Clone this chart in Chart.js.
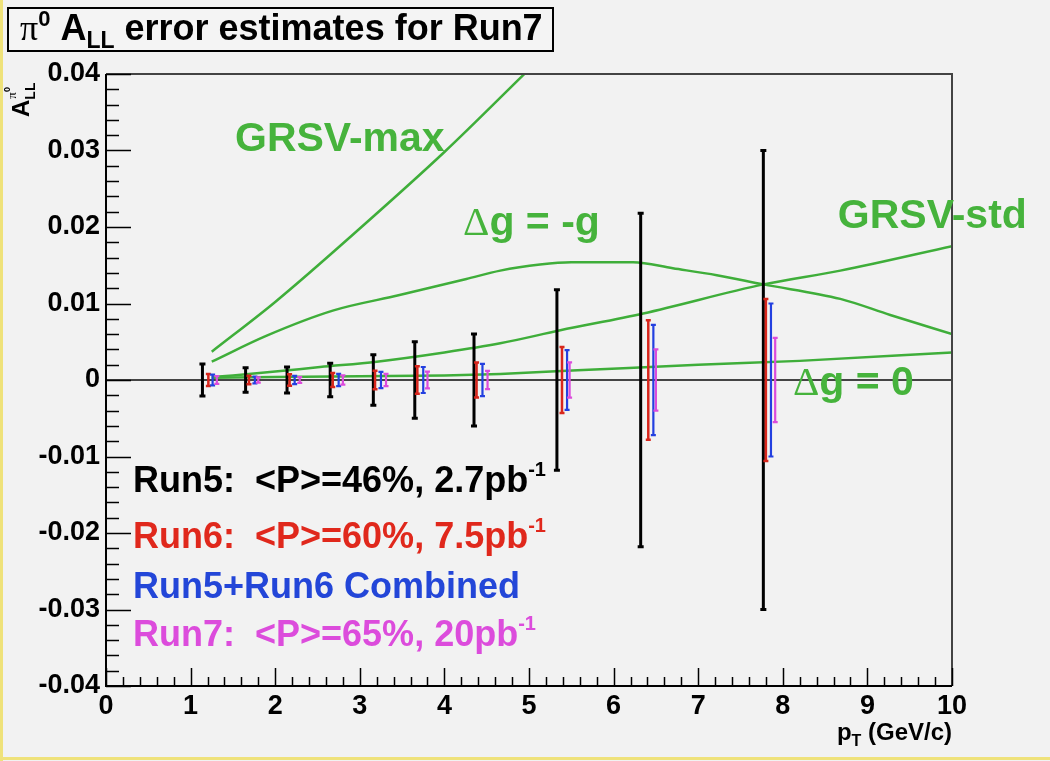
<!DOCTYPE html>
<html>
<head>
<meta charset="utf-8">
<script src="https://cdn.jsdelivr.net/npm/chart.js@4.4.1/dist/chart.umd.min.js"></script>
<style>
  html, body { margin: 0; padding: 0; background: #f2f2f2; }
</style>
</head>
<body>
<canvas id="c" width="1050" height="761"></canvas>
<script>
// pT of each point (GeV/c) - every run is drawn slightly shifted, like in the original
const run5X = [1.14, 1.65, 2.14, 2.65, 3.16, 3.65, 4.35, 5.33, 6.32, 7.77];
const run6X = [1.21, 1.69, 2.17, 2.68, 3.18, 3.68, 4.38, 5.39, 6.41, 7.80];
const combX = [1.26, 1.76, 2.23, 2.75, 3.25, 3.75, 4.45, 5.45, 6.47, 7.86];
const run7X = [1.31, 1.80, 2.29, 2.80, 3.31, 3.80, 4.51, 5.48, 6.50, 7.91];

// statistical errors on A_LL (bars centred on 0)
const run5Err = [0.0021, 0.0016, 0.0017, 0.0022, 0.0033, 0.0050, 0.0060, 0.0118, 0.0218, 0.0300];
const run6Err = [0.0008, 0.00055, 0.00075, 0.0009, 0.0012, 0.0018, 0.0023, 0.0043, 0.0078, 0.0106];
const combErr = [0.0007, 0.00045, 0.00055, 0.0008, 0.00105, 0.0017, 0.0021, 0.0039, 0.0072, 0.0100];
const run7Err = [0.0005, 0.00035, 0.00037, 0.0006, 0.0008, 0.0011, 0.0012, 0.0023, 0.0040, 0.0055];

// theory curves
const grsvMaxX = [1.25, 2.0, 3.0, 4.0, 5.0];
const grsvMaxY = [0.0037, 0.0102, 0.0198, 0.0298, 0.0406];
const dgNegX = [1.25, 1.9, 2.69, 3.47, 4.26, 4.66, 5.13, 5.5, 6.23, 6.7, 7.22, 7.77, 8.68, 9.27, 10.0];
const dgNegY = [0.0024, 0.0058, 0.0091, 0.0111, 0.0132, 0.0143, 0.0151, 0.0154, 0.0154, 0.0146, 0.0137, 0.0125, 0.0106, 0.0085, 0.0060];
const grsvStdX = [1.25, 1.5, 2.0, 2.53, 3.2, 4.0, 4.66, 5.37, 6.35, 7.77, 8.68, 10.0];
const grsvStdY = [0.0004, 0.0006, 0.0011, 0.0017, 0.0024, 0.0036, 0.0048, 0.0065, 0.0087, 0.0125, 0.0143, 0.0175];
const dgZeroX = [1.25, 2.0, 3.0, 4.0, 4.66, 5.64, 7.0, 8.2, 10.0];
const dgZeroY = [0.0003, 0.0004, 0.0005, 0.0006, 0.0008, 0.0013, 0.0020, 0.0025, 0.0036];

const SANS = '"Liberation Sans", Arial, sans-serif';
const SERIF = '"Liberation Serif", "Times New Roman", serif';
const GREEN = '#3fae3a';
const GREEN_TXT = '#46b33c';

function pts(xs, ys) {
  return xs.map((x, i) => ({ x: x, y: ys[i] }));
}
function curve(xs, ys) {
  return {
    data: pts(xs, ys),
    showLine: true,
    borderColor: GREEN,
    borderWidth: 2.5,
    pointRadius: 0,
    pointHoverRadius: 0,
    cubicInterpolationMode: 'monotone'
  };
}
function errSet(xs, errs, color, width, cap) {
  return {
    data: xs.map(x => ({ x: x, y: 0 })),
    errors: errs,
    borderColor: color,
    barWidth: width,
    capHalf: cap,
    showLine: false,
    pointRadius: 0,
    pointHoverRadius: 0
  };
}

// draw a list of text pieces one after another (for sub/superscripts)
function drawRuns(ctx, x, y, runs) {
  let cx = x;
  runs.forEach(r => {
    ctx.font = r.font;
    ctx.fillStyle = r.color || '#000';
    ctx.fillText(r.text, cx, y + (r.dy || 0));
    if (!r.noAdvance) cx += ctx.measureText(r.text).width;
  });
  return cx;
}
function runsWidth(ctx, runs) {
  let w = 0;
  runs.forEach(r => { ctx.font = r.font; if (!r.noAdvance) w += ctx.measureText(r.text).width; });
  return w;
}

const rootStyle = {
  id: 'rootStyle',
  beforeDraw(chart) {
    const ctx = chart.ctx;
    ctx.save();
    ctx.fillStyle = '#f2f2f2';
    ctx.fillRect(0, 0, chart.width, chart.height);
    // yellow edge of the original screenshot
    ctx.fillStyle = '#efe27a';
    ctx.fillRect(0, 0, 3, chart.height);
    ctx.fillRect(0, chart.height - 4, chart.width, 3);
    ctx.restore();
  },
  beforeDatasetsDraw(chart) {
    const ctx = chart.ctx, a = chart.chartArea;
    const y0 = chart.scales.y.getPixelForValue(0);
    ctx.save();
    ctx.strokeStyle = '#444';
    ctx.lineWidth = 2;
    ctx.beginPath();
    ctx.moveTo(a.left, y0);
    ctx.lineTo(a.right, y0);
    ctx.stroke();
    ctx.restore();
  },
  afterDatasetsDraw(chart) {
    const ctx = chart.ctx, a = chart.chartArea;
    const xs = chart.scales.x, ys = chart.scales.y;
    ctx.save();

    // error bars
    chart.data.datasets.forEach(ds => {
      if (!ds.errors) return;
      ctx.strokeStyle = ds.borderColor;
      ctx.lineWidth = ds.barWidth;
      ds.data.forEach((p, i) => {
        const px = xs.getPixelForValue(p.x);
        const top = ys.getPixelForValue(p.y + ds.errors[i]);
        const bot = ys.getPixelForValue(p.y - ds.errors[i]);
        ctx.beginPath();
        ctx.moveTo(px, top);
        ctx.lineTo(px, bot);
        ctx.moveTo(px - ds.capHalf, top);
        ctx.lineTo(px + ds.capHalf, top);
        ctx.moveTo(px - ds.capHalf, bot);
        ctx.lineTo(px + ds.capHalf, bot);
        ctx.stroke();
      });
    });

    // frame
    ctx.strokeStyle = '#444';
    ctx.lineWidth = 2;
    ctx.beginPath();
    ctx.moveTo(a.left, a.top);
    ctx.lineTo(a.right, a.top);
    ctx.lineTo(a.right, a.bottom);
    ctx.stroke();
    ctx.strokeStyle = '#000';
    ctx.lineWidth = 2;
    ctx.beginPath();
    ctx.moveTo(a.left, a.top);
    ctx.lineTo(a.left, a.bottom);
    ctx.lineTo(a.right, a.bottom);
    ctx.stroke();

    // ROOT style ticks, pointing inside
    ctx.lineWidth = 1.5;
    ctx.beginPath();
    for (let i = 0; i <= 50; i++) {
      const px = Math.round(xs.getPixelForValue(i * 0.2)) + 0.5;
      const len = i % 5 === 0 ? 18 : 9;
      ctx.moveTo(px, a.bottom);
      ctx.lineTo(px, a.bottom - len);
    }
    for (let i = 0; i <= 40; i++) {
      const py = Math.round(ys.getPixelForValue(-0.04 + i * 0.002)) + 0.5;
      const len = i % 5 === 0 ? 25 : 13;
      ctx.moveTo(a.left, py);
      ctx.lineTo(a.left + len, py);
    }
    ctx.stroke();

    // curve labels
    ctx.textBaseline = 'alphabetic';
    ctx.textAlign = 'left';
    const big = 'bold 41px ' + SANS;
    const lbl = (x, y, runs) => drawRuns(ctx, xs.getPixelForValue(x), ys.getPixelForValue(y), runs);
    lbl(1.525, 0.0299, [{ text: 'GRSV-max', font: big, color: GREEN_TXT }]);
    lbl(4.22, 0.0190, [{ text: '\u0394', font: '41px ' + SERIF, color: GREEN_TXT },
                       { text: 'g = -g', font: big, color: GREEN_TXT }]);
    lbl(8.65, 0.0199, [{ text: 'GRSV-std', font: big, color: GREEN_TXT }]);
    lbl(8.12, -0.0020, [{ text: '\u0394', font: '41px ' + SERIF, color: GREEN_TXT },
                        { text: 'g = 0', font: big, color: GREEN_TXT }]);

    // run legend
    const lf = 'bold 36px ' + SANS, sf = 'bold 20px ' + SANS;
    drawRuns(ctx, 133, 492, [{ text: 'Run5:  <P>=46%, 2.7pb', font: lf, color: '#000' },
                             { text: '-1', font: sf, color: '#000', dy: -16 }]);
    drawRuns(ctx, 133, 548, [{ text: 'Run6:  <P>=60%, 7.5pb', font: lf, color: '#e0281c' },
                             { text: '-1', font: sf, color: '#e0281c', dy: -16 }]);
    drawRuns(ctx, 133, 598, [{ text: 'Run5+Run6 Combined', font: lf, color: '#2346d8' }]);
    drawRuns(ctx, 133, 646, [{ text: 'Run7:  <P>=65%, 20pb', font: lf, color: '#dc4cdc' },
                             { text: '-1', font: sf, color: '#dc4cdc', dy: -16 }]);

    // x axis title, right aligned to the frame
    const xt = [{ text: 'p', font: 'bold 24px ' + SANS },
                { text: 'T', font: 'bold 16px ' + SANS, dy: 6 },
                { text: ' (GeV/c)', font: 'bold 24px ' + SANS }];
    drawRuns(ctx, a.right - runsWidth(ctx, xt), 740, xt);

    // y axis title, rotated
    ctx.save();
    ctx.translate(29, 117);
    ctx.rotate(-Math.PI / 2);
    const aw = drawRuns(ctx, 0, 0, [{ text: 'A', font: 'bold 24px ' + SANS }]);
    drawRuns(ctx, aw, 0, [{ text: 'LL', font: 'bold 14px ' + SANS, dy: 6 }]);
    drawRuns(ctx, aw + 1, 0, [{ text: '\u03c0', font: '13px ' + SERIF, dy: -13 },
                              { text: '0', font: 'bold 9px ' + SANS, dy: -19 }]);
    ctx.restore();

    // title box
    ctx.fillStyle = '#f4f4f4';
    ctx.fillRect(8, 8, 545, 43);
    ctx.strokeStyle = '#000';
    ctx.lineWidth = 2;
    ctx.strokeRect(8, 8, 545, 43);
    drawRuns(ctx, 20, 40, [{ text: '\u03c0', font: '36px ' + SERIF },
                           { text: '0', font: 'bold 22px ' + SANS, dy: -14 },
                           { text: ' A', font: 'bold 36px ' + SANS },
                           { text: 'LL', font: 'bold 23px ' + SANS, dy: 8 },
                           { text: ' error estimates for Run7', font: 'bold 36px ' + SANS }]);
    ctx.restore();
  }
};

const ctx = document.getElementById('c').getContext('2d');
const chart = new Chart(ctx, {
  type: 'scatter',
  data: {
    datasets: [
      curve(grsvMaxX, grsvMaxY),
      curve(dgNegX, dgNegY),
      curve(grsvStdX, grsvStdY),
      curve(dgZeroX, dgZeroY),
      errSet(run5X, run5Err, '#000000', 3, 3),
      errSet(run6X, run6Err, '#d8261c', 2.5, 2.5),
      errSet(combX, combErr, '#2340e0', 2.2, 2.5),
      errSet(run7X, run7Err, '#dc4cdc', 2.2, 2.5)
    ]
  },
  options: {
    responsive: false,
    animation: false,
    devicePixelRatio: 1,
    layout: {
      padding: { top: 74, right: 98, bottom: 0, left: 0 }
    },
    plugins: {
      legend: { display: false },
      tooltip: { enabled: false },
      title: { display: false }
    },
    scales: {
      x: {
        type: 'linear',
        min: 0,
        max: 10,
        afterFit: s => { s.height = 75; },
        grid: { display: false, drawTicks: false },
        border: { display: false },
        ticks: {
          stepSize: 1,
          padding: 4,
          color: '#000',
          font: { family: SANS, size: 27, weight: 'bold' },
          maxRotation: 0
        }
      },
      y: {
        type: 'linear',
        min: -0.04,
        max: 0.04,
        afterFit: s => { s.width = 106; },
        grid: { display: false, drawTicks: false },
        border: { display: false },
        ticks: {
          stepSize: 0.01,
          padding: 6,
          color: '#000',
          font: { family: SANS, size: 27, weight: 'bold' },
          callback: v => Math.abs(v) < 1e-9 ? '0' : v.toFixed(2)
        }
      }
    }
  },
  plugins: [rootStyle]
});
</script>
</body>
</html>
